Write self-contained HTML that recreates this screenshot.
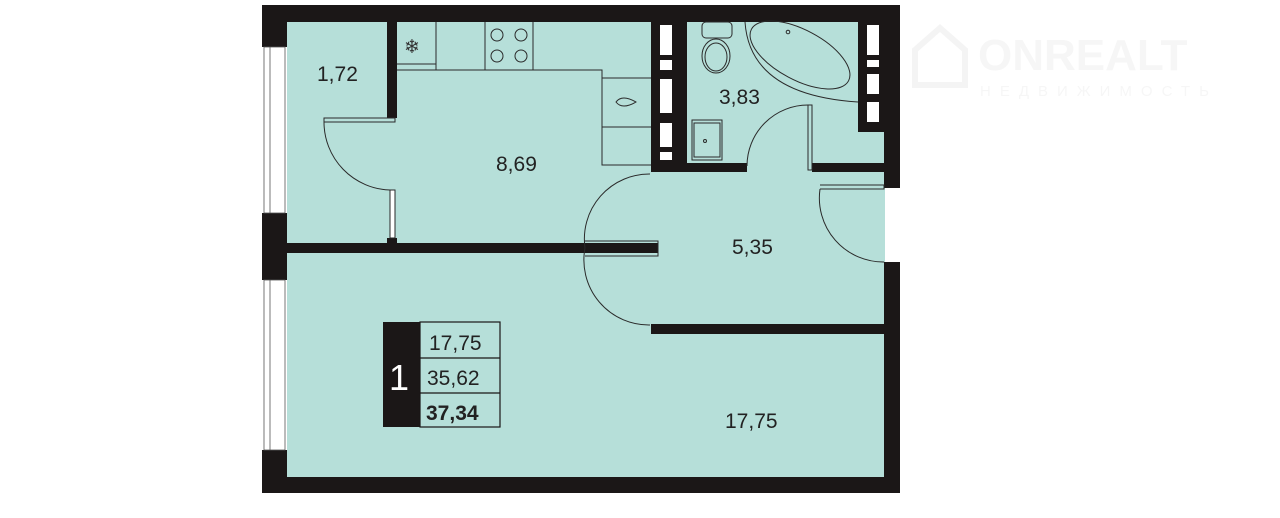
<!DOCTYPE html>
<html><head><meta charset="utf-8"><style>
html,body{margin:0;padding:0;background:#fff;width:1280px;height:518px;overflow:hidden}
svg{display:block}
text{font-family:"Liberation Sans",sans-serif;fill:#222}
</style></head><body>
<svg width="1280" height="518" viewBox="0 0 1280 518" xmlns="http://www.w3.org/2000/svg">
<rect x="287" y="22" width="598" height="455" fill="#b6dfd9"/>
<g fill="#1b1717">
<rect x="262" y="5" width="638" height="17"/>
<rect x="262" y="477" width="638" height="16"/>
<rect x="262" y="5" width="25" height="42"/>
<rect x="262" y="213" width="25" height="67"/>
<rect x="262" y="450" width="25" height="43"/>
<rect x="884" y="5" width="16" height="183"/>
<rect x="884" y="262" width="16" height="231"/>
<rect x="287" y="243" width="371" height="10"/>
<rect x="387" y="22" width="10" height="96"/>
<rect x="387" y="238" width="10" height="6"/>
<rect x="651" y="22" width="36" height="150"/>
<rect x="651" y="163" width="96" height="9"/>
<rect x="812" y="163" width="72" height="9"/>
<rect x="858" y="22" width="26" height="110"/>
<rect x="651" y="324" width="233" height="10"/>
</g>
<g fill="#fff" stroke="#555" stroke-width="0.8">
<rect x="264" y="47" width="21" height="166"/>
<rect x="264" y="280" width="21" height="170"/>
</g>
<line x1="270" y1="47" x2="270" y2="213" stroke="#555" stroke-width="0.8"/>
<line x1="270" y1="280" x2="270" y2="450" stroke="#555" stroke-width="0.8"/>
<g fill="#fff">
<rect x="660" y="25" width="12" height="30"/>
<rect x="660" y="60" width="12" height="10"/>
<rect x="660" y="79" width="12" height="34"/>
<rect x="660" y="123" width="12" height="24"/>
<rect x="660" y="152" width="12" height="8"/>
<rect x="867" y="25" width="12" height="30"/>
<rect x="867" y="60" width="12" height="7"/>
<rect x="867" y="74" width="12" height="20"/>
<rect x="867" y="102" width="12" height="20"/>
</g>
<g fill="none" stroke="#2a2a2a" stroke-width="1">
<path d="M397 70 H436 V22 M397 64 H436 M436 70 H602 V78 H651 M485 22 V70 M533 22 V70 M602 78 V165 H651 M602 127 H651"/>
<circle cx="497" cy="35" r="6"/><circle cx="521" cy="35" r="6"/>
<circle cx="497" cy="56" r="6"/><circle cx="521" cy="56" r="6"/>
<path d="M616 102 Q622 94 636 102 Q622 110 616 102 Z"/>
<path d="M324 118 H395 V122 H324 Z"/>
<path d="M324 122 A68 68 0 0 0 390 190"/>
<rect x="390" y="190" width="5" height="48" fill="#fff"/>
<path d="M585 241 H658 V256 H585"/>
<path d="M585 248 A65 65 0 0 0 650 325"/>
<path d="M585 248 A65 65 0 0 1 650 174"/>
<rect x="808" y="105" width="4" height="65"/>
<path d="M808 105 A61 61 0 0 0 747 166"/>
<path d="M820 185 H884 V189 H820"/>
<path d="M820 189 A64 64 0 0 0 884 262"/>
<rect x="702" y="22" width="30" height="16" rx="4"/>
<ellipse cx="716" cy="56" rx="14" ry="17"/>
<ellipse cx="716" cy="57" rx="11" ry="14"/>
<path d="M745 22 Q750 95 858 102"/>
<ellipse cx="800" cy="55" rx="55" ry="25" transform="rotate(28 800 55)"/>
<circle cx="788" cy="32" r="1.8"/>
<rect x="692" y="120" width="30" height="40"/>
<rect x="694" y="123" width="26" height="34"/>
<circle cx="705" cy="141" r="1.5"/>
</g>
<text x="404" y="53" font-size="19" style="fill:#333">❄</text>
<g font-size="21">
<text x="317" y="81">1,72</text>
<text x="496" y="171">8,69</text>
<text x="719" y="104">3,83</text>
<text x="732" y="254">5,35</text>
<text x="725" y="428">17,75</text>
</g>
<rect x="383" y="322" width="37" height="105" fill="#1b1717"/>
<g fill="none" stroke="#1b1717" stroke-width="1.2">
<rect x="420" y="322" width="80" height="105"/>
<line x1="420" y1="358" x2="500" y2="358"/>
<line x1="420" y1="393" x2="500" y2="393"/>
</g>
<text x="389" y="390" font-size="36" style="fill:#fff">1</text>
<text x="429" y="350" font-size="21">17,75</text>
<text x="427" y="385" font-size="21">35,62</text>
<text x="426" y="420" font-size="21" font-weight="bold">37,34</text>
<g opacity="0.1">
<path d="M915 50 L940 28 L965 50 V85 H915 Z" fill="none" stroke="#999" stroke-width="6"/>
<text x="978" y="70" font-size="44" font-weight="bold" style="fill:#aaa">ONREALT</text>
<text x="980" y="96" font-size="15" letter-spacing="9" style="fill:#aaa">НЕДВИЖИМОСТЬ</text>
</g>
</svg>
</body></html>
